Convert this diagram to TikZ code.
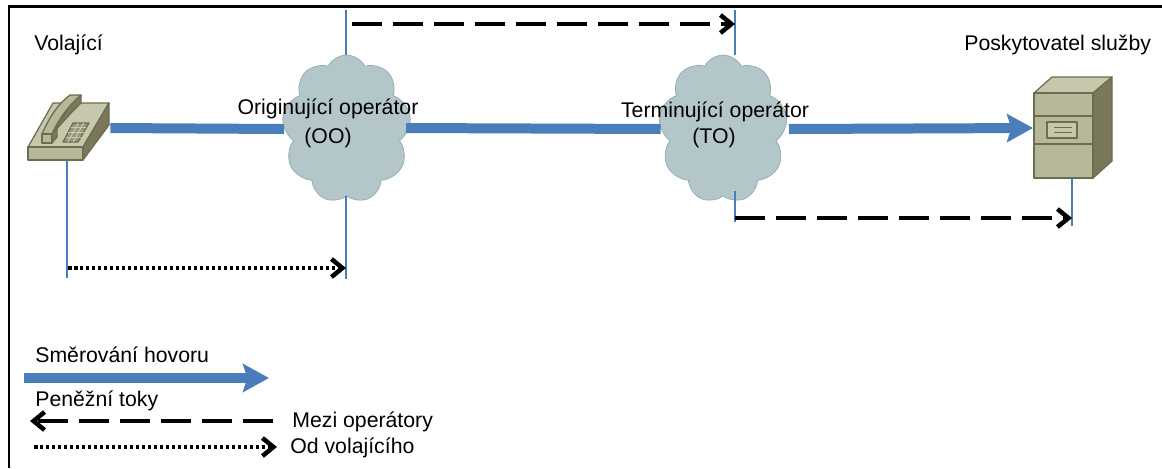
\documentclass[tikz,border=0pt]{standalone}
\usepackage{fontspec}
\setmainfont{Liberation Sans}
\usetikzlibrary{arrows.meta,shapes.symbols}
\definecolor{callblue}{HTML}{4A7EBB}
\definecolor{cloudfill}{HTML}{B3C6C9}
\definecolor{cloudedge}{HTML}{93ACB0}
\definecolor{devtop}{HTML}{C7C7AE}
\definecolor{devfront}{HTML}{B7B79A}
\definecolor{devside}{HTML}{79795A}
\definecolor{devedge}{HTML}{6C6C4E}
\tikzset{
	lbl/.style={font=\fontsize{12.1pt}{14pt}\selectfont, inner sep=0pt},
	netcloud/.style={cloud, cloud puffs=9, cloud puff arc=125, aspect=0.8, draw=cloudedge, fill=cloudfill, inner sep=0pt, minimum width=2.58cm, minimum height=2.96cm},
	device/.style={inner sep=0pt, minimum height=0.2cm},
	devline/.style={draw=devedge, line width=0.025cm, line join=round},
	callflow/.style={draw=callblue, line width=0.2cm},
	callarrow/.style={callflow, -{Stealth[length=0.52cm, width=0.56cm, inset=0.09cm]}},
	guide/.style={draw=callblue, line width=0.035cm},
	opmoney/.style={draw=black, line width=0.07cm, dash pattern=on 0.6cm off 0.22cm, -{Straight Barb[length=0.22cm, width=0.36cm, line width=0.09cm]}},
	usermoney/.style={draw=black, line width=0.07cm, dash pattern=on 0.07cm off 0.05cm, -{Straight Barb[length=0.22cm, width=0.36cm, line width=0.09cm]}}
}
\begin{document}
\begin{tikzpicture}[x=0.02cm, y=-0.02cm]
	%%%%% START %%%%%
	\useasboundingbox (0, 0) rectangle (1162, 468);
	
	\draw[line width=0.06cm] (9, 468) -- (9, 6) -- (1162, 6);
	
	\node[device] (phone) at (68, 128) [minimum width=1.68cm] {};
	\node[device] (server) at (1033, 128) {};
	\node[netcloud] (oo) at (346.5, 129) {};
	\node[netcloud] (to) at (723, 129) {};
	
	% free ends of the thin lines
	\coordinate (oojoin) at (406, 128);
	\coordinate (tojoin) at (789, 129);
	\coordinate (phonelow) at (67, 160);
	\coordinate (phoneend) at (67, 278);
	\coordinate (ootop) at (346, 10);
	\coordinate (oolow) at (346, 279);
	\coordinate (totop) at (735, 10);
	\coordinate (toin) at (735, 191);
	\coordinate (tolow) at (735, 222);
	\coordinate (servlow) at (1072, 178);
	\coordinate (servend) at (1072, 226);
	
	\draw[callflow] (phone.east) -- (oo.west);
	\draw[callflow] (oojoin) -- (to.west);
	\draw[callarrow] (tojoin) -- (server.center);
	
	\draw[guide] (phonelow) -- (phoneend);
	\draw[guide] (ootop) -- (oo.north -| ootop);
	\draw[guide] (oo.south -| ootop) -- (oolow);
	\draw[guide] (totop) -- (to.north -| totop);
	\draw[guide] (toin) -- (tolow);
	\draw[guide] (servlow) -- (servend);
	
	\draw[opmoney] (352, 24) coordinate (topstart) -- (topstart -| totop);
	\draw[opmoney] (735, 218) coordinate (lowstart) -- (lowstart -| servlow);
	\draw[usermoney] (68, 268) coordinate (dotstart) -- (dotstart -| ootop);
	
	% phone
	\draw[devline, fill=devtop] (28, 147) -- (53, 103) -- (109, 103) -- (83, 147) -- cycle;
	\draw[devline, fill=devfront] (28, 147) rectangle (83, 160);
	\draw[devline, fill=devside] (83, 147) -- (109, 103) -- (109, 125) -- (83, 160) -- cycle;
	\draw[devline, fill=devside!60!devtop] (63, 142) -- (73, 123) -- (89, 123) -- (78, 142) -- cycle;
	\foreach \k in {0.25, 0.5, 0.75} {
		\draw[devtop, line width=0.02cm] ({63+10*\k}, {142-19*\k}) -- ({78+11*\k}, {142-19*\k});
	}
	\foreach \k in {0.33, 0.67} {
		\draw[devtop, line width=0.02cm] ({63+15*\k}, 142) -- ({73+16*\k}, 123);
	}
	\draw[devline, fill=devside] (52, 134) -- (72, 112) -- (81, 103) -- (81, 95) -- (70, 105) -- cycle;
	\draw[devline, fill=devfront] (42, 134) .. controls (50, 116) and (58, 104) .. (70, 95) -- (81, 95) .. controls (68, 106) and (58, 120) .. (52, 134) -- cycle;
	\draw[devline, fill=devfront] (42, 134) rectangle (52, 143);
	\draw[devline, fill=devside] (52, 134) -- (57, 128) -- (57, 137) -- (52, 143) -- cycle;
	
	% server
	\draw[devline, fill=devtop] (1034, 93) -- (1052, 77) -- (1112, 77) -- (1093, 93) -- cycle;
	\draw[devline, fill=devside] (1093, 93) -- (1112, 77) -- (1112, 161) -- (1093, 178) -- cycle;
	\draw[devline, fill=devfront] (1034, 93) rectangle (1093, 178);
	\draw[devline] (1034, 116) -- (1093, 116);
	\draw[devline] (1034, 144) -- (1093, 144);
	\draw[devline, fill=devtop] (1047, 122) rectangle (1077, 138);
	\draw[devedge, line width=0.02cm] (1054, 127) -- (1072, 127);
	\draw[devedge, line width=0.02cm] (1054, 132) -- (1072, 132);
	
	% texts
	\node[lbl, anchor=base west] (caller) at (34, 50) {Volající};
	\node[lbl, anchor=base west] (provider) at (964, 50) {Poskytovatel služby};
	\node[lbl, anchor=base] (oname) at (328, 114) {Originující operátor};
	\node[lbl, anchor=base] (oshort) at (328, 143) {(OO)};
	\node[lbl, anchor=base] (tname) at (715, 117) {Terminující operátor};
	\node[lbl, anchor=base] (tshort) at (714, 143) {(TO)};
	
	% legend
	\node[lbl, anchor=base west] (routing) at (35, 362) {Směrování hovoru};
	\node[lbl, anchor=base west] (money) at (35, 406) {Peněžní toky};
	\node[lbl, anchor=base west] (between) at (292, 427) {Mezi operátory};
	\node[lbl, anchor=base west] (fromcaller) at (290, 453) {Od volajícího};
	\coordinate (routestart) at (24, 378);
	\coordinate (routeend) at (269, 378);
	\coordinate (opstart) at (273, 421);
	\coordinate (opend) at (30, 421);
	\coordinate (usestart) at (34, 447);
	\coordinate (useend) at (277, 447);
	\draw[callarrow] (routestart) -- (routeend);
	\draw[opmoney] (opstart) -- (opend);
	\draw[usermoney] (usestart) -- (useend);
	
	%%%%% END %%%%%
\end{tikzpicture}
\end{document}
